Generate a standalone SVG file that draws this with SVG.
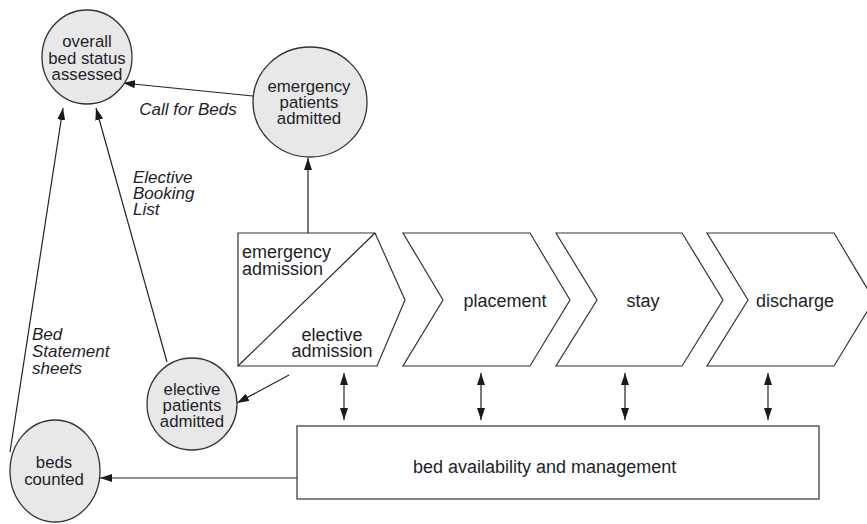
<svg xmlns="http://www.w3.org/2000/svg" width="867" height="524" viewBox="0 0 867 524">
  <defs>
    <marker id="arrow" viewBox="0 0 12 8" refX="12" refY="4" markerWidth="12" markerHeight="8" markerUnits="userSpaceOnUse" orient="auto-start-reverse">
      <path d="M0,0 L12,4 L0,8 Z" fill="#1a1a1a"/>
    </marker>
    <style>
      .node-circle { fill: #e8e8e8; stroke: #333; stroke-width: 1.3; }
      .shape { fill: #fff; stroke: #333; stroke-width: 1.2; }
      .conn { fill: none; stroke: #222; stroke-width: 1.2; }
      .lbl { font-family: "Liberation Sans", Arial, sans-serif; font-size: 16.8px; fill: #1e1e28; }
      .big { font-size: 18px; }
      .mid { text-anchor: middle; }
      .it { font-family: "Liberation Sans", Arial, sans-serif; font-size: 17px; font-style: italic; fill: #1e1e28; }
    </style>
  </defs>

  <rect width="867" height="524" fill="#fff"/>

  <!-- connectors -->
  <g id="connectors">
    <line class="conn" x1="253" y1="96" x2="123" y2="83" marker-end="url(#arrow)"/>
    <line class="conn" x1="308" y1="233" x2="308" y2="158" marker-end="url(#arrow)"/>
    <line class="conn" x1="167" y1="362" x2="96" y2="108" marker-end="url(#arrow)"/>
    <line class="conn" x1="10" y1="452" x2="63" y2="108" marker-end="url(#arrow)"/>
    <line class="conn" x1="289" y1="375" x2="237" y2="403" marker-end="url(#arrow)"/>
    <line class="conn" x1="344" y1="373" x2="344" y2="420" marker-start="url(#arrow)" marker-end="url(#arrow)"/>
    <line class="conn" x1="481" y1="373" x2="481" y2="420" marker-start="url(#arrow)" marker-end="url(#arrow)"/>
    <line class="conn" x1="625" y1="373" x2="625" y2="420" marker-start="url(#arrow)" marker-end="url(#arrow)"/>
    <line class="conn" x1="768" y1="373" x2="768" y2="420" marker-start="url(#arrow)" marker-end="url(#arrow)"/>
    <line class="conn" x1="297" y1="478" x2="100" y2="478" marker-end="url(#arrow)"/>
    <text class="it mid" x="188" y="115">Call for Beds</text>
    <text class="it" x="133" y="183">Elective</text>
    <text class="it" x="133" y="199">Booking</text>
    <text class="it" x="133" y="215">List</text>
    <text class="it" x="32" y="340">Bed</text>
    <text class="it" x="32" y="357">Statement</text>
    <text class="it" x="32" y="374">sheets</text>
  </g>

  <!-- circular nodes -->
  <g id="overall-bed-status">
    <ellipse class="node-circle" cx="87" cy="57" rx="45" ry="47"/>
    <text class="lbl mid" x="87" y="47">overall</text>
    <text class="lbl mid" x="87" y="63.5">bed status</text>
    <text class="lbl mid" x="87" y="80">assessed</text>
  </g>

  <g id="emergency-patients">
    <ellipse class="node-circle" cx="310" cy="102" rx="57" ry="55"/>
    <text class="lbl mid" x="309" y="92">emergency</text>
    <text class="lbl mid" x="309" y="108">patients</text>
    <text class="lbl mid" x="309" y="124">admitted</text>
  </g>

  <g id="elective-patients">
    <ellipse class="node-circle" cx="192" cy="404" rx="45" ry="46"/>
    <text class="lbl mid" x="192" y="395">elective</text>
    <text class="lbl mid" x="192" y="411">patients</text>
    <text class="lbl mid" x="192" y="427">admitted</text>
  </g>

  <g id="beds-counted">
    <ellipse class="node-circle" cx="55" cy="471" rx="45" ry="51"/>
    <text class="lbl mid" x="54" y="468">beds</text>
    <text class="lbl mid" x="54" y="485">counted</text>
  </g>

  <!-- process chain -->
  <g id="admission">
    <path class="shape" d="M238,233 L375,233 L405,300 L377,366 L238,366 Z"/>
    <line class="conn" x1="238" y1="366" x2="375" y2="233"/>
    <text class="lbl big" x="242" y="258">emergency</text>
    <text class="lbl big" x="242" y="275">admission</text>
    <text class="lbl big mid" x="332" y="341">elective</text>
    <text class="lbl big mid" x="332" y="357">admission</text>
  </g>

  <g id="placement">
    <path class="shape" d="M403,233 L530,233 L570,300 L530,366 L403,366 L443,300 Z"/>
    <text class="lbl big mid" x="505" y="307">placement</text>
  </g>

  <g id="stay">
    <path class="shape" d="M556,233 L682,233 L723,300 L682,366 L556,366 L597,300 Z"/>
    <text class="lbl big mid" x="643" y="307">stay</text>
  </g>

  <g id="discharge">
    <path class="shape" d="M707,233 L834,233 L874,300 L834,366 L707,366 L748,300 Z"/>
    <text class="lbl big mid" x="795" y="307">discharge</text>
  </g>

  <g id="bed-availability">
    <rect class="shape" x="297" y="426" width="522" height="73"/>
    <text class="lbl big" x="413" y="473">bed availability and management</text>
  </g>
</svg>
